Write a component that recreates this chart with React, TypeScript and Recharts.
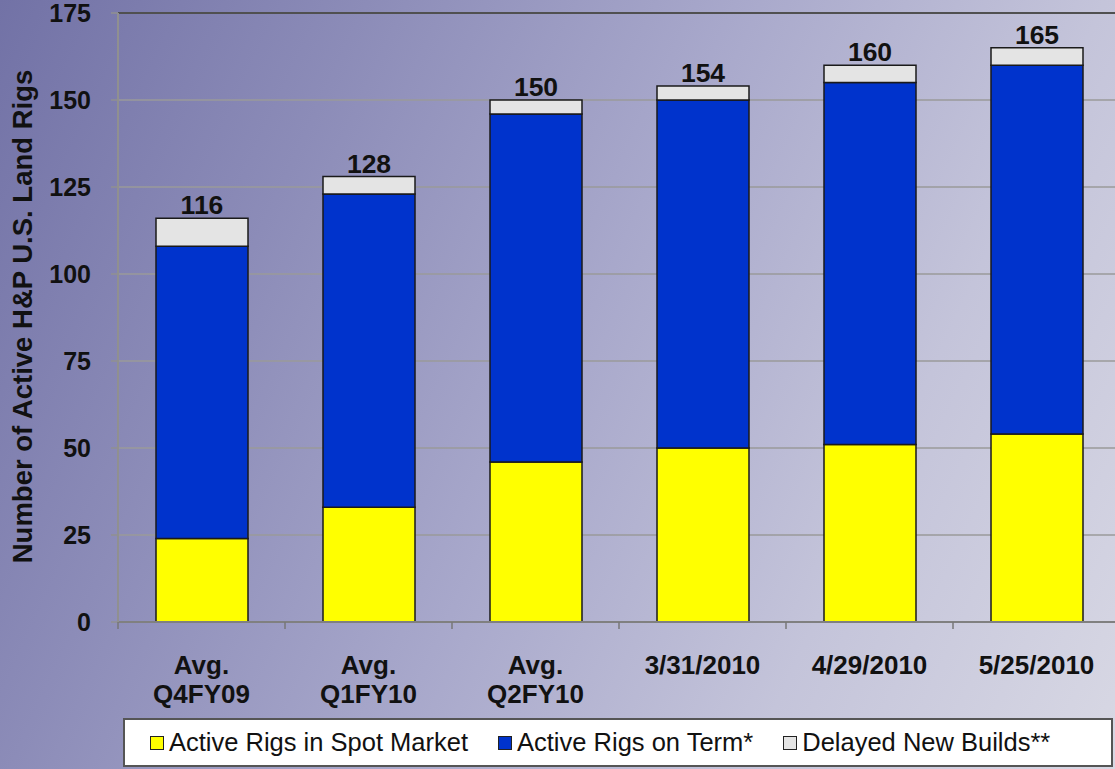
import React from "react";
import {
  BarChart,
  Bar,
  XAxis,
  YAxis,
  CartesianGrid,
  LabelList,
  Legend,
  ReferenceLine,
} from "recharts";

const categories = ["Avg.\nQ4FY09", "Avg.\nQ1FY10", "Avg.\nQ2FY10", "3/31/2010", "4/29/2010", "5/25/2010"];
const spotMarket = [24, 33, 46, 50, 51, 54];
const onTerm = [84, 90, 100, 100, 104, 106];
const delayedBuilds = [8, 5, 4, 4, 5, 5];
const totals = [116, 128, 150, 154, 160, 165];
const yTicks = [0, 25, 50, 75, 100, 125, 150, 175];

const seriesNames = ["Active Rigs in Spot Market", "Active Rigs on Term*", "Delayed New Builds**"];
const seriesColors = ["#ffff00", "#0033cc", "#e4e4e4"];

const data = categories.map((c, i) => ({
  name: c,
  spot: spotMarket[i],
  term: onTerm[i],
  delayed: delayedBuilds[i],
  total: totals[i],
}));

const FONT = "'Liberation Sans', Arial, Helvetica, sans-serif";

const XTick = (props: any) => {
  const { x, y, payload, width, visibleTicksCount } = props;
  const half = payload && payload.offset ? payload.offset : width / visibleTicksCount / 2;
  const lines = String(payload.value).split("\n");
  return (
    <g>
      <line x1={x - half} x2={x - half} y1={y} y2={y + 7} stroke="#777" strokeWidth={1.5} />
      <text x={x} y={y + 52} textAnchor="middle" fontFamily={FONT} fontWeight="bold" fontSize={26} fill="#111">
        {lines.map((l, i) => (
          <tspan key={i} x={x} dy={i === 0 ? 0 : 29}>
            {l}
          </tspan>
        ))}
      </text>
    </g>
  );
};

const YLabel = (props: any) => {
  const vb = props.viewBox || { x: 0, y: 0, width: 118, height: 610 };
  const cx = vb.x + 22;
  const cy = vb.y + vb.height / 2 - 1;
  return (
    <text
      x={cx}
      y={cy}
      transform={`rotate(-90, ${cx}, ${cy})`}
      textAnchor="middle"
      dominantBaseline="central"
      fontFamily={FONT}
      fontWeight="bold"
      fontSize={27.5}
      fill="#111"
    >
      Number of Active H&amp;P U.S. Land Rigs
    </text>
  );
};

const LegendContent = () => (
  <div
    style={{
      width: 990,
      height: 49,
      background: "#ffffff",
      border: "2px solid #555",
      boxSizing: "border-box",
      display: "flex",
      alignItems: "center",
      fontFamily: FONT,
      fontSize: 25.5,
      color: "#111",
      paddingLeft: 25,
      whiteSpace: "nowrap",
    }}
  >
    {seriesNames.map((n, i) => (
      <div key={n} style={{ display: "flex", alignItems: "center", marginRight: 30 }}>
        <span
          style={{
            display: "inline-block",
            width: 12,
            height: 12,
            background: seriesColors[i],
            border: "1.5px solid #222",
            marginRight: 5,
          }}
        />
        <span>{n}</span>
      </div>
    ))}
  </div>
);

export default function App() {
  return (
    <div
      style={{
        position: "absolute",
        left: 0,
        top: 0,
        width: 1115,
        height: 769,
        overflow: "hidden",
        background: "linear-gradient(115deg, #7272a6 0%, #8c8cb8 25%, #a8a8cb 50%, #c4c4da 75%, #d8d8e4 100%)",
      }}
    >
      <BarChart
        width={1120}
        height={769}
        data={data}
        margin={{ top: 13, right: 0, left: 0, bottom: 8 }}
        barSize={92}
      >
        <CartesianGrid vertical={false} stroke="#9a9a9a" strokeWidth={1.5} />
        <ReferenceLine y={175} stroke="#505050" strokeWidth={2} />
        <XAxis
          dataKey="name"
          height={90}
          tickLine={false}
          tickSize={0}
          tickMargin={0}
          interval={0}
          axisLine={{ stroke: "#808080", strokeWidth: 2 }}
          tick={<XTick />}
        />
        <YAxis
          width={118}
          domain={[0, 175]}
          ticks={yTicks}
          interval={0}
          tickSize={7}
          tickMargin={20}
          axisLine={{ stroke: "#909090", strokeWidth: 2 }}
          tickLine={{ stroke: "#909090", strokeWidth: 1.5 }}
          tick={{ fontFamily: FONT, fontWeight: "bold", fontSize: 25, fill: "#111" }}
          label={<YLabel />}
        />
        <Legend
          verticalAlign="bottom"
          content={<LegendContent />}
          wrapperStyle={{ position: "absolute", left: 123, top: 718, width: 990, height: 49 }}
        />
        <Bar dataKey="spot" stackId="a" fill={seriesColors[0]} stroke="#1a1a1a" strokeWidth={1.5} isAnimationActive={false} />
        <Bar dataKey="term" stackId="a" fill={seriesColors[1]} stroke="#1a1a1a" strokeWidth={1.5} isAnimationActive={false} />
        <Bar dataKey="delayed" stackId="a" fill={seriesColors[2]} stroke="#1a1a1a" strokeWidth={1.5} isAnimationActive={false}>
          <LabelList
            dataKey="total"
            position="top"
            offset={4}
            style={{ fontFamily: FONT, fontWeight: "bold", fontSize: 26.5, fill: "#111" }}
          />
        </Bar>
      </BarChart>
    </div>
  );
}
